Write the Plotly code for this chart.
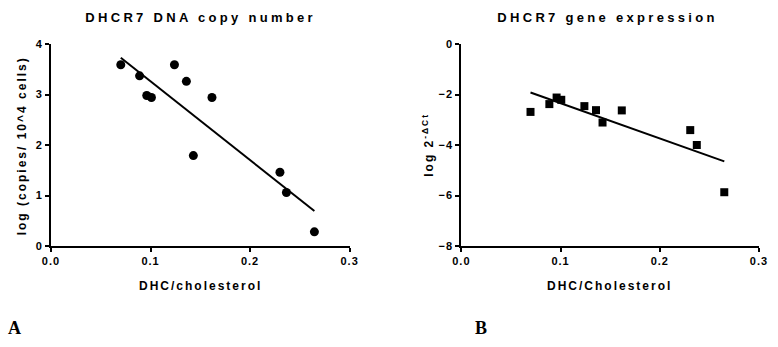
import numpy as np
import plotly.graph_objects as go

# Panel A: DNA copy number
ratio_a = [0.0701, 0.089, 0.0962, 0.1009, 0.124, 0.136, 0.143, 0.1617, 0.230, 0.2365, 0.2646]
copies_a = [3.59, 3.37, 2.98, 2.94, 3.59, 3.26, 1.79, 2.94, 1.46, 1.06, 0.28]

# Panel B: gene expression
ratio_b = [0.0697, 0.0887, 0.096, 0.1007, 0.124, 0.1357, 0.1423, 0.1617, 0.2307, 0.2373, 0.265]
expr_b = [-2.69, -2.38, -2.12, -2.21, -2.46, -2.62, -3.11, -2.63, -3.41, -4.00, -5.87]

x_ticks = [0.0, 0.1, 0.2, 0.3]
x_tick_text = ["0.0", "0.1", "0.2", "0.3"]
ya_ticks = [0, 1, 2, 3, 4]
yb_ticks = [0, -2, -4, -6, -8]


def fit_line(x, y):
    k, b = np.polyfit(x, y, 1)
    xs = np.array([min(x), max(x)])
    return xs, k * xs + b


FONT = "Liberation Sans, Arial, sans-serif"
fig = go.Figure()

xa, ya = fit_line(ratio_a, copies_a)
fig.add_trace(go.Scatter(x=ratio_a, y=copies_a, mode="markers", xaxis="x", yaxis="y",
                         marker=dict(symbol="circle", size=9, color="black"), cliponaxis=False))
fig.add_trace(go.Scatter(x=xa, y=ya, mode="lines", xaxis="x", yaxis="y",
                         line=dict(color="black", width=2)))

xb, yb = fit_line(ratio_b, expr_b)
fig.add_trace(go.Scatter(x=ratio_b, y=expr_b, mode="markers", xaxis="x2", yaxis="y2",
                         marker=dict(symbol="square", size=8, color="black"), cliponaxis=False))
fig.add_trace(go.Scatter(x=xb, y=yb, mode="lines", xaxis="x2", yaxis="y2",
                         line=dict(color="black", width=2)))

axis_common = dict(showline=True, linecolor="black", linewidth=2, ticks="outside",
                   ticklen=4, tickwidth=2, tickcolor="black", showgrid=False, zeroline=False,
                   tickfont=dict(family=FONT, size=11, color="black", weight="bold"))

fig.update_layout(
    width=778, height=347,
    margin=dict(l=51, r=11, t=44, b=101),
    paper_bgcolor="white", plot_bgcolor="white",
    showlegend=False,
    xaxis=dict(domain=[0, 0.4218], range=[0, 0.3], tickvals=x_ticks, ticktext=x_tick_text,
               anchor="y", **axis_common),
    yaxis=dict(domain=[0, 1], range=[0, 4], tickvals=ya_ticks, anchor="x", **axis_common),
    xaxis2=dict(domain=[0.5796, 1], range=[0, 0.3], tickvals=x_ticks, ticktext=x_tick_text,
                anchor="y2", **axis_common),
    yaxis2=dict(domain=[0, 1], range=[-8, 0], tickvals=yb_ticks, anchor="x2", **axis_common),
)

def ann(text, x, y, size, angle=0, family=FONT, cls=""):
    fig.add_annotation(text=text, x=x, y=y, xref="paper", yref="paper", showarrow=False,
                       textangle=angle, xanchor="center", yanchor="middle", name=cls,
                       font=dict(family=family, size=size, color="black", weight="bold"))

def px(xp):
    return (xp - 51) / 716

def py(yp):
    return (246 - yp) / 202

ann("DHCR7 DNA copy number", px(202), py(17), 13)
ann("DHCR7 gene expression", px(614), py(17), 13)
ann("DHC/cholesterol", px(202), py(286), 12)
ann("DHC/Cholesterol", px(616), py(286), 12)
ann("log (copies/ 10^4 cells)", px(22), py(146), 12, angle=-90)
ann("log 2<sup>-ΔCt</sup>", px(432), py(145), 12, angle=-90)
ann("A", px(14), py(328), 18, family="Liberation Serif, Times New Roman, serif")
ann("B", px(486), py(328), 18, family="Liberation Serif, Times New Roman, serif")

# letter spacing to mimic the wide-tracked original typography
post = """
var gd = document.getElementsByClassName('plotly-graph-div')[0];
function spaceOut(){
  var anns = gd.querySelectorAll('.annotation-text');
  anns.forEach(function(t){
    var s = t.textContent;
    if (s.indexOf('DHCR7') === 0) { t.style.letterSpacing = '3.3px'; }
    else if (s === 'A' || s === 'B') {}
    else { t.style.letterSpacing = '2px'; }
  });
  gd.querySelectorAll('.xtick text, .ytick text, .x2tick text, .y2tick text').forEach(function(t){
    t.style.letterSpacing = '1px';
  });
}
spaceOut();
"""

fig.write_html("out.html", post_script=post)
